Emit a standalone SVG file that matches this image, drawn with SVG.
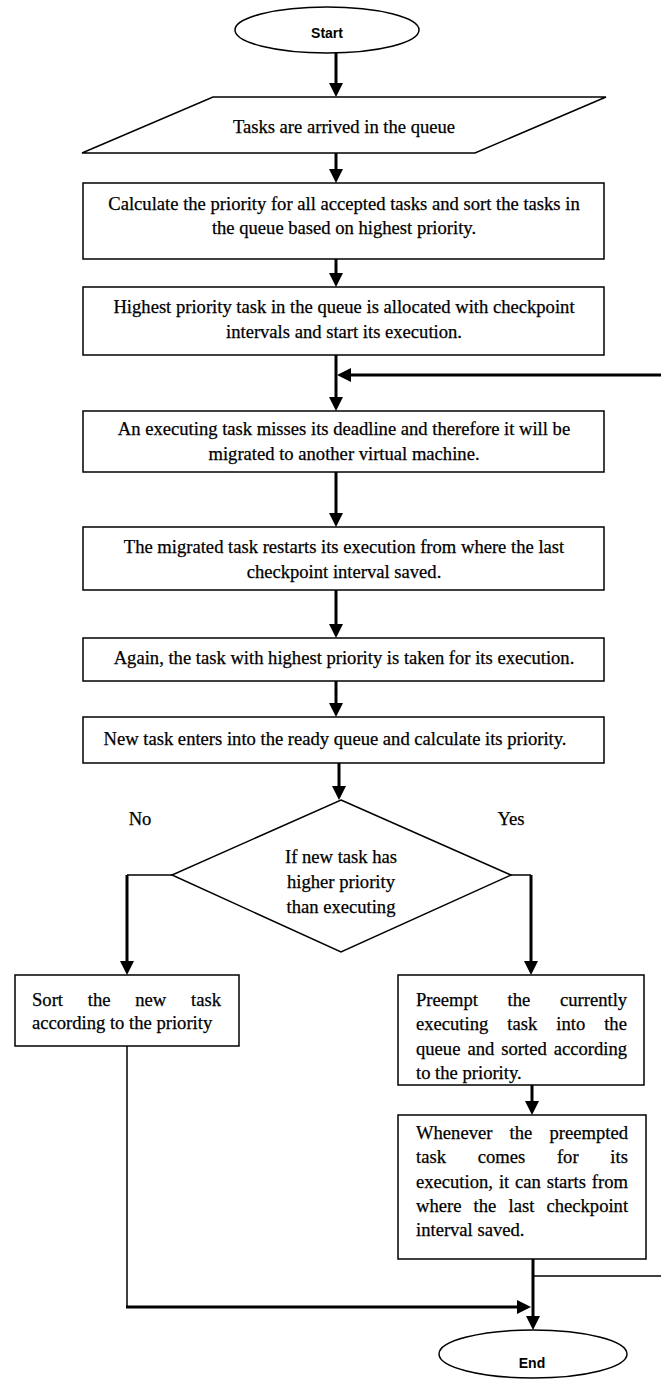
<svg xmlns="http://www.w3.org/2000/svg" width="661" height="1379" viewBox="0 0 661 1379">
<style>
.shape{fill:#fff;stroke:#000;stroke-width:1.5}
.t{font-family:"Liberation Serif","Times New Roman",serif;font-size:18.6px;fill:#000;stroke:#000;stroke-width:0.25}
.c{text-anchor:middle}
.term{font-family:"Liberation Sans",Arial,sans-serif;font-size:14px;font-weight:bold;fill:#000;text-anchor:middle}
.arr{fill:none;stroke:#000;stroke-width:3;marker-end:url(#ah)}
.thick{fill:none;stroke:#000;stroke-width:3}
.thin{fill:none;stroke:#000;stroke-width:1.5}
</style>
<defs>
<marker id="ah" viewBox="0 0 14 14" refX="2" refY="7" markerWidth="14" markerHeight="14" markerUnits="userSpaceOnUse" orient="auto">
<path d="M0,0 L14,7 L0,14 z" fill="#000"/>
</marker>
</defs>
<rect width="661" height="1379" fill="#fff"/>
<g id="connectors">
<line class="arr" x1="336" y1="53" x2="336" y2="85"/>
<line class="arr" x1="336" y1="153" x2="336" y2="171"/>
<line class="arr" x1="336" y1="259" x2="336" y2="275"/>
<line class="arr" x1="336" y1="355" x2="336" y2="399"/>
<line class="arr" x1="661" y1="375" x2="349" y2="375"/>
<line class="arr" x1="336" y1="472" x2="336" y2="515"/>
<line class="arr" x1="336" y1="590" x2="336" y2="626"/>
<line class="arr" x1="336" y1="681" x2="336" y2="705"/>
<line class="arr" x1="339" y1="763" x2="339" y2="788"/>
<line class="thin" x1="172" y1="875" x2="127" y2="875"/>
<line class="arr" x1="127" y1="875" x2="127" y2="963"/>
<line class="thin" x1="511" y1="875" x2="531" y2="875"/>
<line class="arr" x1="531" y1="875" x2="531" y2="963"/>
<line class="arr" x1="532" y1="1085" x2="532" y2="1103"/>
<line class="thin" x1="127" y1="1046" x2="127" y2="1307"/>
<line class="arr" x1="126" y1="1307" x2="519" y2="1307"/>
<line class="arr" x1="533" y1="1259" x2="533" y2="1318"/>
<line class="thin" x1="533" y1="1276" x2="661" y2="1276"/>
</g>
<g id="start">
<ellipse class="shape" cx="327" cy="30" rx="92" ry="23"/>
<text class="term" x="327" y="38">Start</text>
</g>
<g id="arrive">
<polygon class="shape" points="213,97 606,97 475,153 82,153"/>
<text class="t c" x="344" y="133">Tasks are arrived in the queue</text>
</g>
<g id="calc">
<rect class="shape" x="83" y="183" width="521" height="76"/>
<text class="t c" x="344" y="210">Calculate the priority for all accepted tasks and sort the tasks in</text>
<text class="t c" x="344" y="234">the queue based on highest priority.</text>
</g>
<g id="allocate">
<rect class="shape" x="83" y="287" width="521" height="68"/>
<text class="t c" x="344" y="313">Highest priority task in the queue is allocated with checkpoint</text>
<text class="t c" x="344" y="338">intervals and start its execution.</text>
</g>
<g id="miss">
<rect class="shape" x="83" y="411" width="521" height="61"/>
<text class="t c" x="344" y="435">An executing task misses its deadline and therefore it will be</text>
<text class="t c" x="344" y="460">migrated to another virtual machine.</text>
</g>
<g id="restart">
<rect class="shape" x="83" y="527" width="521" height="63"/>
<text class="t c" x="344" y="553">The migrated task restarts its execution from where the last</text>
<text class="t c" x="344" y="578">checkpoint interval saved.</text>
</g>
<g id="again">
<rect class="shape" x="83" y="638" width="521" height="43"/>
<text class="t c" x="344" y="664">Again, the task with highest priority is taken for its execution.</text>
</g>
<g id="newtask">
<rect class="shape" x="83" y="717" width="521" height="46"/>
<text class="t c" x="335" y="745">New task enters into the ready queue and calculate its priority.</text>
</g>
<g id="decision">
<polygon class="shape" points="341,800 511,875 341,952 172,875"/>
<text class="t c" x="341" y="863">If new task has</text>
<text class="t c" x="341" y="888">higher priority</text>
<text class="t c" x="341" y="913">than executing</text>
</g>
<g id="labels">
<text class="t c" x="140" y="825">No</text>
<text class="t c" x="511" y="825">Yes</text>
</g>
<g id="sortnew">
<rect class="shape" x="15" y="975" width="224" height="71"/>
<text class="t" y="1006"><tspan x="32">Sort</tspan><tspan x="87.8">the</tspan><tspan x="135.3">new</tspan><tspan x="191.1">task</tspan></text>
<text class="t" x="32" y="1029">according to the priority</text>
</g>
<g id="preempt">
<rect class="shape" x="398" y="975" width="246" height="110"/>
<text class="t" y="1006"><tspan x="416">Preempt</tspan><tspan x="507.6">the</tspan><tspan x="560">currently</tspan></text>
<text class="t" y="1030"><tspan x="416">executing</tspan><tspan x="507.3">task</tspan><tspan x="556.3">into</tspan><tspan x="604.2">the</tspan></text>
<text class="t" y="1055"><tspan x="416">queue</tspan><tspan x="467.4">and</tspan><tspan x="501.3">sorted</tspan><tspan x="553.8">according</tspan></text>
<text class="t" x="416" y="1079">to the priority.</text>
</g>
<g id="resume">
<rect class="shape" x="398" y="1115" width="248" height="144"/>
<text class="t" y="1139"><tspan x="416">Whenever</tspan><tspan x="509.6">the</tspan><tspan x="549.5">preempted</tspan></text>
<text class="t" y="1163"><tspan x="416">task</tspan><tspan x="477.7">comes</tspan><tspan x="556.9">for</tspan><tspan x="610.3">its</tspan></text>
<text class="t" y="1188"><tspan x="416">execution,</tspan><tspan x="498.9">it</tspan><tspan x="515">can</tspan><tspan x="546.7">starts</tspan><tspan x="591.8">from</tspan></text>
<text class="t" y="1212"><tspan x="416">where</tspan><tspan x="473.6">the</tspan><tspan x="508.5">last</tspan><tspan x="546.5">checkpoint</tspan></text>
<text class="t" x="416" y="1236">interval saved.</text>
</g>
<g id="end">
<ellipse class="shape" cx="533" cy="1354" rx="94" ry="24"/>
<text class="term" x="532" y="1368">End</text>
</g>
</svg>
